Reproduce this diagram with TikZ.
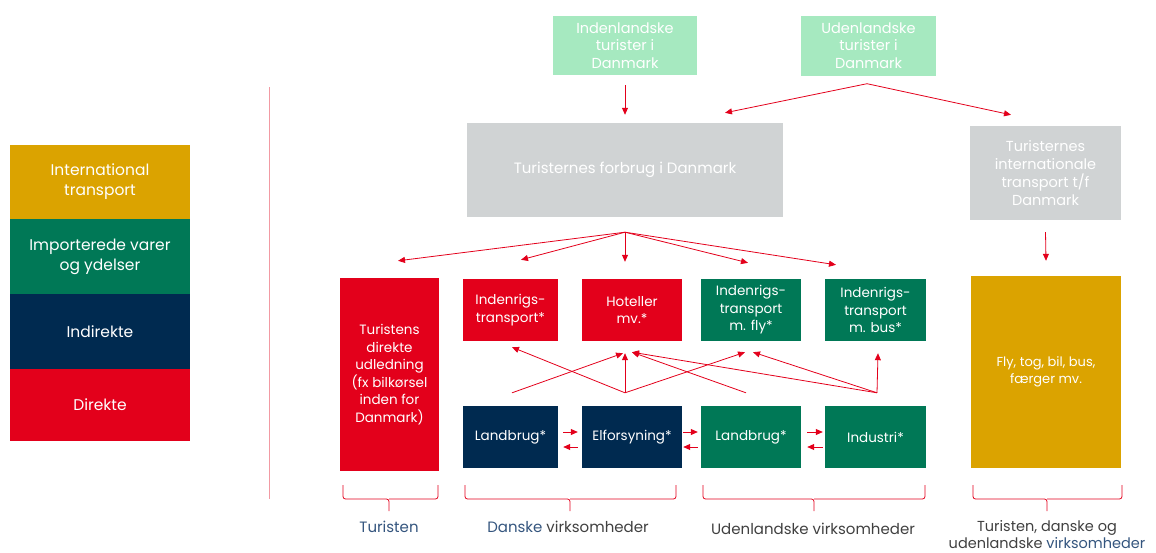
\documentclass[tikz,border=0pt]{standalone}
\usepackage{fontspec}
\setmainfont{Poppins}
\usetikzlibrary{arrows.meta}

\definecolor{dkred}{HTML}{E3001B}
\definecolor{dknavy}{HTML}{002A50}
\definecolor{dkgreen}{HTML}{007856}
\definecolor{dkgold}{HTML}{DBA300}
\definecolor{boxgray}{HTML}{D0D3D4}
\definecolor{mint}{HTML}{A6E9C0}
\definecolor{sepred}{HTML}{F29AA3}
\definecolor{labelblue}{HTML}{34557E}
\definecolor{labelgray}{HTML}{404040}

\begin{document}
\begin{tikzpicture}[
        x=1pt,
        y=-1pt,
        font=\fontsize{13.5}{17.5}\selectfont,
        box/.style={
            text=white,
            align=center,
            inner sep=0pt,
        },
        box-red/.style={
            box,
            fill=dkred,
        },
        box-navy/.style={
            box,
            fill=dknavy,
        },
        box-green/.style={
            box,
            fill=dkgreen,
        },
        box-gold/.style={
            box,
            fill=dkgold,
        },
        box-gray/.style={
            box,
            fill=boxgray,
            font=\fontsize{14.5}{17.7}\selectfont,
        },
        box-mint/.style={
            box,
            fill=mint,
            font=\fontsize{14.5}{17.5}\selectfont,
        },
        small-box/.style={
            minimum width=97pt,
            minimum height=62pt,
        },
        legend-box/.style={
            box,
            minimum width=180pt,
            font=\fontsize{15.5}{20}\selectfont,
        },
        link/.style={
            draw=dkred,
            line width=0.8pt,
            -{Triangle[length=7pt,width=6pt]},
        },
        bracket/.style={
            draw=dkred,
            line width=0.8pt,
            rounded corners=2.5pt,
        },
        caption/.style={
            text=labelgray,
            align=center,
            font=\fontsize{15}{17}\selectfont,
        },
    ]
    \useasboundingbox (0,0) rectangle (1156,552);

    % Legend.
    \node[legend-box, fill=dkgold, minimum height=74pt] (leg-intl) at (100,182) {International\\transport};
    \node[legend-box, fill=dkgreen, minimum height=75pt] (leg-import) at (100,256.5) {Importerede varer\\og ydelser};
    \node[legend-box, fill=dknavy, minimum height=75pt] (leg-indir) at (100,331.5) {Indirekte};
    \node[legend-box, fill=dkred, minimum height=72pt] (leg-dir) at (100,405) {Direkte};

    \draw[sepred, line width=1pt] (269,87) -- (269,499);

    % Tourists and their spending.
    \node[box-mint, minimum width=144pt, minimum height=59pt] (inl) at (625,45.5) {Indenlandske\\turister i\\Danmark};
    \node[box-mint, minimum width=135pt, minimum height=60pt] (udl) at (868.5,45.5) {Udenlandske\\turister i\\Danmark};
    \node[box-gray, minimum width=316pt, minimum height=94pt, font=\fontsize{15}{18}\selectfont] (forbrug) at (625,170) {Turisternes forbrug i Danmark};
    \node[box-gray, minimum width=151pt, minimum height=94pt] (intl) at (1045.5,173) {Turisternes\\internationale\\transport t/f\\Danmark};

    % Emitting units.
    \node[box-red, minimum width=99pt, minimum height=193pt] (turistens) at (389.5,374.5) {Turistens\\direkte\\udledning\\(fx bilkørsel\\inden for\\Danmark)};
    \node[box-gold, minimum width=150pt, minimum height=192pt, font=\fontsize{13}{17}\selectfont] (flybox) at (1046,372) {Fly, tog, bil, bus,\\færger mv.};

    \node[box-red, small-box, minimum width=95pt] (indtr) at (510.5,310) {Indenrigs-\\transport*};
    \node[box-red, small-box, minimum width=100pt] (hotel) at (632,310) {Hoteller\\mv.*};
    \node[box-green, small-box, minimum width=100pt] (fly) at (751,310) {Indenrigs-\\transport\\m. fly*};
    \node[box-green, small-box, minimum width=101pt] (bus) at (875.5,310) {Indenrigs-\\transport\\m. bus*};

    \node[box-navy, small-box, minimum width=95pt] (lb-dk) at (510.5,437) {Landbrug*};
    \node[box-navy, small-box, minimum width=100pt] (elf) at (632,437) {Elforsyning*};
    \node[box-green, small-box, minimum width=100pt] (lb-udl) at (751,437) {Landbrug*};
    \node[box-green, small-box, minimum width=101pt] (ind) at (875.5,437) {Industri*};

    % Flows from the tourists.
    \draw[link] ([yshift=-10pt]inl.south) -- ([yshift=8pt]forbrug.north);
    \coordinate (udl-fork) at ([xshift=-1.5pt,yshift=-8pt]udl.south);
    \draw[link] (udl-fork) -- ([xshift=100pt,yshift=10pt]forbrug.north);
    \draw[link] (udl-fork) -- ([xshift=-34.5pt,yshift=11pt]intl.north);
    \draw[link] ([yshift=-12pt]intl.south) -- ([yshift=15pt]flybox.north);

    % Spending fan.
    \coordinate (fan) at ([yshift=-15pt]forbrug.south);
    \draw[link] (fan) -- ([xshift=8.5pt,yshift=17pt]turistens.north);
    \draw[link] (fan) -- ([xshift=10.5pt,yshift=19pt]indtr.north);
    \draw[link] (fan) -- ([xshift=-7pt,yshift=17pt]hotel.north);
    \draw[link] (fan) -- ([xshift=-3pt,yshift=16pt]fly.north);
    \draw[link] (fan) -- ([xshift=-39.5pt,yshift=14pt]bus.north);

    % Deliveries up the supply chain.
    \draw[link] ([xshift=1.5pt,yshift=13pt]lb-dk.north) -- ([xshift=-9pt,yshift=-12pt]hotel.south);
    \draw[link] ([xshift=-7pt,yshift=13pt]elf.north) -- ([xshift=1.5pt,yshift=-6pt]indtr.south);
    \draw[link] ([xshift=-7pt,yshift=13pt]elf.north) -- ([xshift=-7pt,yshift=-12pt]hotel.south);
    \draw[link] ([xshift=-7pt,yshift=13pt]elf.north) -- ([xshift=-6pt,yshift=-11pt]fly.south);
    \draw[link] ([xshift=-5pt,yshift=13pt]lb-udl.north) -- ([yshift=-11pt]hotel.south);
    \draw[link] ([xshift=1.5pt,yshift=13pt]ind.north) -- ([yshift=-11pt]hotel.south);
    \draw[link] ([xshift=1.5pt,yshift=13pt]ind.north) -- ([xshift=2pt,yshift=-11pt]fly.south);
    \draw[link] ([xshift=1.5pt,yshift=13pt]ind.north) -- ([xshift=2.5pt,yshift=-12pt]bus.south);

    % Trade between sectors.
    \foreach \a/\b/\s/\t in {lb-dk/elf/5/4, elf/lb-udl/1/3, lb-udl/ind/6/2} {
        \draw[link] ([xshift=\s pt,yshift=5pt]\a.east) -- ([xshift=-\t pt,yshift=5pt]\b.west);
        \draw[link] ([xshift=-\t pt,yshift=-10pt]\b.west) -- ([xshift=\s pt,yshift=-10pt]\a.east);
    }

    % Brackets and captions.
    \foreach \a/\m/\b in {343/389/438, 465/570/676, 703/814/925, 973/1047/1122}
    \draw[bracket] (\a,485) -- (\a,499) -- (\m,499) -- (\m,511) (\m,499) -- (\b,499) -- (\b,485);

    \node[caption, text=labelblue] (cap-tur) at (389,527) {Turisten};
    \node[caption] (cap-dk) at (568,527) {{\color{labelblue}Danske} virksomheder};
    \node[caption] (cap-udl) at (813,529) {Udenlandske virksomheder};
    \node[caption, font=\fontsize{14.5}{16.5}\selectfont] (cap-all) at (1047,534.5) {Turisten, danske og\\udenlandske {\color{labelblue}virksomheder}};
\end{tikzpicture}
\end{document}
